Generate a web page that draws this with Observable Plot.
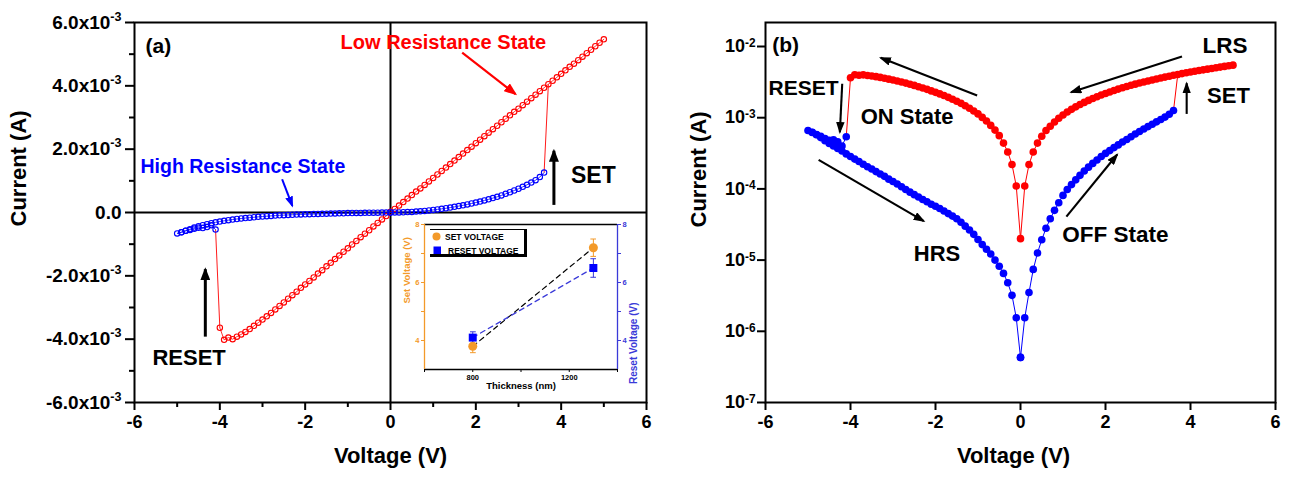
<!DOCTYPE html>
<html>
<head>
<meta charset="utf-8">
<script src="https://cdn.jsdelivr.net/npm/d3@7"></script>
<script src="https://cdn.jsdelivr.net/npm/@observablehq/plot@0.6"></script>
<style>
  html, body { margin: 0; padding: 0; background: #fff; }
  #wrap { position: relative; width: 1290px; height: 477px; overflow: hidden; background: #fff;
          font-family: "Liberation Sans", Arial, Helvetica, sans-serif; }
  .panel { position: absolute; }
  .panel svg { overflow: visible; }
  #legend { position: absolute; left: 430px; top: 229px; width: 97px; height: 28px; box-sizing: border-box;
            border-top: 1px solid #000; border-right: 3px solid #000; border-bottom: 3px solid #000;
            font-weight: bold; font-size: 8.5px; color: #000; }
  #legend .sym { position: absolute; }
  #legend .txt { position: absolute; line-height: 10px; white-space: nowrap; }
</style>
</head>
<body>
<div id="wrap"></div>
<script>
// ---------------- DATA ----------------
// HRS forward sweep (blue), 0 -> 3.6 V, current in mA
const hrsFwdV = [0.0,0.1,0.2,0.3,0.4,0.5,0.6,0.7,0.8,0.9,1.0,1.1,1.2,1.3,1.4,1.5,1.6,1.7,1.8,1.9,2.0,2.1,2.2,2.3,2.4,2.5,2.6,2.7,2.8,2.9,3.0,3.1,3.2,3.3,3.4,3.5,3.6];
const hrsFwdI_mA = [0.00043,0.00155,0.0035,0.0074,0.0126,0.0193,0.028,0.038,0.050,0.064,
  0.081,0.098,0.115,0.134,0.155,0.178,0.202,0.228,0.255,0.285,
  0.315,0.345,0.38,0.415,0.455,0.495,0.54,0.59,0.64,0.695,
  0.75,0.81,0.875,0.945,1.02,1.12,1.26];

// LRS sweep (red), 5.0 -> -4.0 V, current in mA
const lrsV = [5.0,4.9,4.8,4.7,4.6,4.5,4.4,4.3,4.2,4.1,4.0,3.9,3.8,3.7,3.6,3.5,3.4,3.3,3.2,3.1,
  3.0,2.9,2.8,2.7,2.6,2.5,2.4,2.3,2.2,2.1,2.0,1.9,1.8,1.7,1.6,1.5,1.4,1.3,1.2,1.1,
  1.0,0.9,0.8,0.7,0.6,0.5,0.4,0.3,0.2,0.1,0.0,
  -0.1,-0.2,-0.3,-0.4,-0.5,-0.6,-0.7,-0.8,-0.9,-1.0,-1.1,-1.2,-1.3,-1.4,-1.5,-1.6,-1.7,-1.8,-1.9,-2.0,
  -2.1,-2.2,-2.3,-2.4,-2.5,-2.6,-2.7,-2.8,-2.9,-3.0,-3.1,-3.2,-3.3,-3.4,-3.5,-3.6,-3.7,-3.8,-3.9,-4.0];
const lrsI_mA = [5.47,5.36,5.25,5.14,5.03,4.92,4.81,4.70,4.60,4.49,
  4.38,4.27,4.16,4.05,3.94,3.83,3.72,3.61,3.50,3.39,
  3.28,3.18,3.07,2.96,2.85,2.74,2.63,2.52,2.41,2.30,
  2.19,2.08,1.97,1.86,1.75,1.64,1.53,1.42,1.31,1.20,
  1.09,0.98,0.87,0.76,0.66,0.55,0.44,0.33,0.22,0.11,
  0.02,
  -0.11,-0.22,-0.33,-0.44,-0.56,-0.67,-0.78,-0.90,-1.01,-1.13,
  -1.24,-1.36,-1.47,-1.59,-1.70,-1.82,-1.93,-2.05,-2.16,-2.27,
  -2.38,-2.50,-2.61,-2.72,-2.84,-2.95,-3.06,-3.17,-3.28,-3.38,
  -3.48,-3.58,-3.68,-3.77,-3.85,-3.92,-4.00,-3.95,-4.02,-3.64];

// HRS after RESET (blue), -4.1 -> -5.0 V, mA
const hrsPostResetV = [-4.1,-4.2,-4.3,-4.4,-4.5,-4.6,-4.7,-4.8,-4.9,-5.0];
const hrsPostResetI_mA = [-0.54,-0.40,-0.46,-0.49,-0.48,-0.51,-0.55,-0.58,-0.62,-0.66];

// HRS return sweep (blue), -4.9 -> 0 V, mA
const hrsRevV = [-4.9,-4.8,-4.7,-4.6,-4.5,-4.4,-4.3,-4.2,-4.1,-4.0,-3.9,-3.8,-3.7,-3.6,-3.5,-3.4,-3.3,-3.2,-3.1,
  -3.0,-2.9,-2.8,-2.7,-2.6,-2.5,-2.4,-2.3,-2.2,-2.1,-2.0,-1.9,-1.8,-1.7,-1.6,-1.5,-1.4,-1.3,-1.2,-1.1,
  -1.0,-0.9,-0.8,-0.7,-0.6,-0.5,-0.4,-0.3,-0.2,-0.1,0.0];
const hrsRevI_mA = [-0.625,-0.575,-0.525,-0.475,-0.435,-0.40,-0.37,-0.34,-0.31,
  -0.285,-0.262,-0.242,-0.222,-0.205,-0.19,-0.175,-0.162,-0.15,-0.137,
  -0.127,-0.117,-0.107,-0.098,-0.090,-0.083,-0.077,-0.071,-0.066,-0.061,
  -0.057,-0.053,-0.049,-0.045,-0.0415,-0.038,-0.034,-0.030,-0.0265,-0.023,
  -0.0195,-0.0165,-0.0142,-0.0122,-0.0100,-0.0082,-0.0065,-0.0048,-0.0032,-0.00155,
  -0.00043];

// switching points (V): SET jumps 3.6 -> 3.7, RESET jumps -4.0 -> -4.1
const setSwitchV = [3.6, 3.7];
const resetSwitchV = [-4.0, -4.1];

// inset: switching voltages vs. thickness
const thicknessNm = [800, 1300];
const setVoltage = [3.8, 7.2];
const setVoltageErr = [0.22, 0.30];
const resetVoltage = [4.1, 6.5];
const resetVoltageErr = [0.20, 0.32];

// ticks
const xTicks = [-6, -4, -2, 0, 2, 4, 6];
const xMinorA = [-5, -3, -1, 1, 3, 5];
const yTicksA = [-6e-3, -4e-3, -2e-3, 0, 2e-3, 4e-3, 6e-3];
const yMinorA = [-5e-3, -3e-3, -1e-3, 1e-3, 3e-3, 5e-3];
const yTicksB = [1e-7, 1e-6, 1e-5, 1e-4, 1e-3, 1e-2];
const insetYTicks = [4, 6, 8], insetYMinor = [5, 7];
const insetXTicks = [800, 1200], insetXMinor = [600, 1000, 1400];

const axisTitles = {x: "Voltage (V)", y: "Current (A)"};
const insetTitles = {x: "Thickness (nm)", yLeft: "Set Voltage (V)", yRight: "Reset Voltage (V)"};
const legendLabels = ["SET VOLTAGE", "RESET VOLTAGE"];

// annotations (data units)
const annA = [
  {text: "(a)", V: -5.74, I: 5.26e-3},
  {text: "Low Resistance State", V: -1.17, I: 5.36e-3},
  {text: "High Resistance State", V: -5.86, I: 1.45e-3},
  {text: "SET", V: 4.23, I: 1.16e-3},
  {text: "RESET", V: -5.58, I: -4.58e-3}
];
const arrowsA = [
  {kind: "lrs", x1: 1.68, y1: 5.05e-3, x2: 2.93, y2: 3.74e-3},
  {kind: "hrs", x1: -2.54, y1: 1.05e-3, x2: -2.30, y2: 0.21e-3},
  {kind: "sw", x1: 3.83, y1: 0.24e-3, x2: 3.83, y2: 1.95e-3},
  {kind: "sw", x1: -4.34, y1: -3.92e-3, x2: -4.34, y2: -1.79e-3}
];
const annB = [
  {text: "(b)", V: -5.84, I: 1.03e-2},
  {text: "RESET", V: -5.93, I: 2.55e-3},
  {text: "ON State", V: -3.76, I: 1.02e-3},
  {text: "LRS", V: 4.28, I: 1.03e-2},
  {text: "SET", V: 4.39, I: 2.05e-3},
  {text: "OFF State", V: 0.98, I: 2.29e-5},
  {text: "HRS", V: -2.51, I: 1.23e-5}
];
const arrowsB = [
  {kind: "b", x1: -4.195, y1: 3.0e-3, x2: -4.25, y2: 6.25e-4},
  {kind: "b", x1: -1.02, y1: 2.05e-3, x2: -3.29, y2: 6.93e-3},
  {kind: "b", x1: 3.80, y1: 7.24e-3, x2: 1.19, y2: 2.28e-3},
  {kind: "b", x1: 3.91, y1: 1.13e-3, x2: 3.91, y2: 3.05e-3},
  {kind: "b", x1: 1.08, y1: 4.09e-5, x2: 2.275, y2: 3.04e-4},
  {kind: "b", x1: -4.75, y1: 2.56e-4, x2: -2.275, y2: 3.52e-5}
];

// ---------------- STYLES ----------------
const RED = "#ff0000", BLUE = "#0000ff", ORANGE = "#f39a2a", IBLUE = "#3a3ad8";
const FONT = '"Liberation Sans", Arial, Helvetica, sans-serif';
const baseStyle = {fontFamily: FONT, fontWeight: "bold", fontSize: "18px", background: "transparent", color: "#000", overflow: "visible"};
const annStyleA = {
  "(a)": {fill: "#000", size: 21},
  "Low Resistance State": {fill: RED, size: 20},
  "High Resistance State": {fill: BLUE, size: 19.5},
  "SET": {fill: "#000", size: 23},
  "RESET": {fill: "#000", size: 22}
};
const annStyleB = {
  "(b)": {fill: "#000", size: 21},
  "RESET": {fill: "#000", size: 21},
  "ON State": {fill: "#000", size: 22},
  "LRS": {fill: "#000", size: 22.5},
  "SET": {fill: "#000", size: 22},
  "OFF State": {fill: "#000", size: 22.5},
  "HRS": {fill: "#000", size: 22}
};
// arrow styles (stroke widths are unique so that heads can be attached after rendering)
const arrowKinds = {
  lrs: {stroke: RED, width: 2.2, L: 13, W: 10},
  hrs: {stroke: BLUE, width: 2.05, L: 11, W: 8},
  sw: {stroke: "#000000", width: 3, L: 13, W: 10},
  b: {stroke: "#000000", width: 2.1, L: 12, W: 8.5}
};

// ---------------- BUILD TABLES ----------------
const toRows = (Vs, Is, seg) => Vs.map((v, i) => ({V: v, I: Is[i] / 1000, seg}));
const lrs = toRows(lrsV, lrsI_mA, "lrs");
const hrsFwd = toRows(hrsFwdV, hrsFwdI_mA, "fwd");
const hrsBack = toRows([...hrsPostResetV, ...hrsRevV], [...hrsPostResetI_mA, ...hrsRevI_mA], "back");
const hrs = [...hrsFwd, ...hrsBack];
const at = (rows, v) => rows.find(d => Math.abs(d.V - v) < 1e-9);
const transitions = [
  [at(hrsFwd, setSwitchV[0]), at(lrs, setSwitchV[1])],
  [at(lrs, resetSwitchV[0]), at(hrsBack, resetSwitchV[1])]
].map(([a, b]) => ({V1: a.V, I1: a.I, V2: b.V, I2: b.I}));
const setRows = thicknessNm.map((t, i) => ({t, v: setVoltage[i], e: setVoltageErr[i]}));
const resetRows = thicknessNm.map((t, i) => ({t, v: resetVoltage[i], e: resetVoltageErr[i]}));

const fmtLin = v => Math.abs(v) < 1e-12 ? "0.0" : (v * 1e3).toFixed(1) + "x10^-3";
const fmtLog = v => "10^" + Math.round(Math.log10(v));
const fmtNum = d => String(d);

function annotationMarks(list, styles) {
  return list.map(a => Plot.text([a], {x: "V", y: "I", text: "text", textAnchor: "start", lineAnchor: "middle",
    fill: styles[a.text].fill, fontSize: styles[a.text].size, fontWeight: "bold"}));
}
function arrowMarks(list) {
  const kinds = [...new Set(list.map(d => d.kind))];
  return kinds.map(k => Plot.link(list.filter(d => d.kind === k), {
    x1: "x1", y1: "y1", x2: "x2", y2: "y2",
    stroke: arrowKinds[k].stroke, strokeWidth: arrowKinds[k].width
  }));
}
let markerId = 0;
function addArrowheads(svg) {
  const s = d3.select(svg);
  const defs = s.insert("defs", ":first-child");
  s.selectAll("g").each(function () {
    const w = parseFloat(this.getAttribute("stroke-width"));
    const c = (this.getAttribute("stroke") || "").toLowerCase();
    if (!(w > 0) || !c) return;
    const spec = Object.values(arrowKinds).find(k => Math.abs(k.width - w) < 1e-6 && k.stroke.toLowerCase() === c);
    if (!spec) return;
    const id = "ahead" + (markerId++);
    defs.append("marker").attr("id", id).attr("viewBox", "0 0 10 10")
      .attr("refX", 8.5).attr("refY", 5).attr("markerUnits", "userSpaceOnUse")
      .attr("markerWidth", spec.L).attr("markerHeight", spec.W)
      .attr("preserveAspectRatio", "none").attr("orient", "auto")
      .append("path").attr("d", "M0,0L10,5L0,10Z").attr("fill", spec.stroke).attr("stroke", "none");
    d3.select(this).selectAll("path,line").attr("marker-end", `url(#${id})`);
  });
}
function superscripts(svg, dy) {
  d3.select(svg).selectAll("text").each(function () {
    const t = this.textContent;
    if (!t.includes("^") || this.querySelector("tspan")) return;
    const [base, exp] = t.split("^");
    const s = d3.select(this);
    s.text(base);
    s.append("tspan").attr("dy", dy).attr("font-size", "0.66em").text(exp);
  });
}

const wrap = document.getElementById("wrap");
function place(node, left, top, width) {
  const d = document.createElement("div");
  d.className = "panel";
  d.style.left = left + "px"; d.style.top = top + "px"; d.style.width = width + "px";
  d.appendChild(node);
  wrap.appendChild(d);
}

// ---------------- PANEL (a) ----------------
const plotA = Plot.plot({
  width: 656, height: 477,
  marginLeft: 134, marginRight: 10, marginTop: 22, marginBottom: 75,
  style: baseStyle,
  x: {domain: [-6, 6]},
  y: {domain: [-6e-3, 6e-3]},
  marks: [
    Plot.ruleY([0], {strokeWidth: 2}),
    Plot.ruleX([0], {strokeWidth: 2}),
    Plot.line(lrs, {x: "V", y: "I", stroke: RED, strokeWidth: 0.8}),
    Plot.link(transitions, {x1: "V1", y1: "I1", x2: "V2", y2: "I2", stroke: RED, strokeWidth: 0.9}),
    Plot.dot(lrs, {x: "V", y: "I", r: 2.7, stroke: RED, strokeWidth: 1.1}),
    Plot.line(hrs, {x: "V", y: "I", z: "seg", stroke: BLUE, strokeWidth: 0.8}),
    Plot.dot(hrs, {x: "V", y: "I", r: 2.7, stroke: BLUE, strokeWidth: 1.1}),
    Plot.frame({strokeWidth: 2}),
    Plot.axisY({ticks: yTicksA, tickFormat: fmtLin, tickSize: 9, tickPadding: 4, strokeWidth: 2, fontSize: 19, label: null}),
    Plot.axisY({ticks: yMinorA, tickFormat: () => "", tickSize: 5, strokeWidth: 2, label: null}),
    Plot.axisX({ticks: xTicks, tickFormat: fmtNum, tickSize: 8, tickPadding: 5, strokeWidth: 2, fontSize: 18, label: null}),
    Plot.axisX({ticks: xMinorA, tickFormat: () => "", tickSize: 5, strokeWidth: 2, label: null}),
    Plot.text([axisTitles.y], {text: d => d, frameAnchor: "left", rotate: -90, lineAnchor: "top", dx: -124, dy: 14, fontSize: 22, fontWeight: "bold"}),
    Plot.text([axisTitles.x], {text: d => d, frameAnchor: "bottom", lineAnchor: "middle", dy: 53, fontSize: 22, fontWeight: "bold"}),
    ...annotationMarks(annA, annStyleA),
    ...arrowMarks(arrowsA)
  ]
});
superscripts(plotA, "-0.62em");
addArrowheads(plotA);
place(plotA, 0, 0, 656);

// ---------------- INSET ----------------
const inset = Plot.plot({
  width: 260, height: 185,
  marginLeft: 29, marginRight: 38, marginTop: 14, marginBottom: 26,
  style: {...baseStyle, fontSize: "7.5px"},
  x: {domain: [600, 1400]},
  y: {domain: [3, 8]},
  marks: [
    Plot.ruleY([8], {strokeWidth: 1.3}),
    Plot.ruleY([3], {strokeWidth: 1.3}),
    Plot.ruleX([600], {stroke: ORANGE, strokeWidth: 1.3}),
    Plot.ruleX([1400], {stroke: IBLUE, strokeWidth: 1.3}),
    Plot.axisY({anchor: "left", ticks: insetYTicks, tickSize: 3, tickPadding: 2, color: ORANGE, fontSize: 7.5, tickFormat: fmtNum, label: null}),
    Plot.axisY({anchor: "left", ticks: insetYMinor, tickSize: 3, tickFormat: () => "", color: ORANGE, label: null}),
    Plot.axisY({anchor: "right", ticks: insetYTicks, tickSize: 3, tickPadding: 2, color: IBLUE, fontSize: 7.5, tickFormat: fmtNum, label: null}),
    Plot.axisY({anchor: "right", ticks: insetYMinor, tickSize: 3, tickFormat: () => "", color: IBLUE, label: null}),
    Plot.axisX({ticks: insetXTicks, tickSize: 3, tickPadding: 2, fontSize: 7.5, tickFormat: fmtNum, label: null}),
    Plot.axisX({ticks: insetXMinor, tickSize: 3, tickFormat: () => "", label: null}),
    Plot.line(setRows, {x: "t", y: "v", stroke: "#000", strokeWidth: 1.2, strokeDasharray: "5,4"}),
    Plot.line(resetRows, {x: "t", y: "v", stroke: IBLUE, strokeWidth: 1.2, strokeDasharray: "5,4"}),
    Plot.link(setRows, {x1: "t", x2: "t", y1: d => d.v - d.e, y2: d => d.v + d.e, stroke: ORANGE, strokeWidth: 1, markerStart: "tick", markerEnd: "tick"}),
    Plot.link(resetRows, {x1: "t", x2: "t", y1: d => d.v - d.e, y2: d => d.v + d.e, stroke: IBLUE, strokeWidth: 1, markerStart: "tick", markerEnd: "tick"}),
    Plot.dot(setRows, {x: "t", y: "v", r: 4.5, fill: ORANGE}),
    Plot.dot(resetRows, {x: "t", y: "v", r: 4.5, symbol: "square", fill: BLUE}),
    Plot.text([insetTitles.yLeft], {text: d => d, frameAnchor: "left", rotate: -90, lineAnchor: "middle", dx: -17.3, dy: 6.5, fill: ORANGE, fontSize: 9.5, fontWeight: "bold"}),
    Plot.text([insetTitles.yRight], {text: d => d, frameAnchor: "right", rotate: -90, lineAnchor: "middle", dx: 16.3, dy: 5.5, fill: IBLUE, fontSize: 10, fontWeight: "bold"}),
    Plot.text([insetTitles.x], {text: d => d, frameAnchor: "bottom", lineAnchor: "middle", dy: 16, fontSize: 9.5, fontWeight: "bold"})
  ]
});
place(inset, 395, 210, 260);

// inset legend
const legend = document.createElement("div");
legend.id = "legend";
legend.innerHTML =
  `<svg class="sym" style="left:2px;top:2px" width="9" height="9"><circle cx="4.5" cy="4.5" r="4" fill="${ORANGE}"/></svg>` +
  `<div class="txt" style="left:15px;top:1.5px">${legendLabels[0]}</div>` +
  `<svg class="sym" style="left:2.5px;top:16px" width="9" height="9"><rect x="0.5" y="0.5" width="7.5" height="7.5" fill="${BLUE}"/></svg>` +
  `<div class="txt" style="left:18px;top:15.5px">${legendLabels[1]}</div>`;
wrap.appendChild(legend);

// ---------------- PANEL (b) ----------------
const absI = d => Math.abs(d.I);
const plotB = Plot.plot({
  width: 610, height: 477,
  marginLeft: 85, marginRight: 15, marginTop: 22, marginBottom: 75,
  style: baseStyle,
  x: {domain: [-6, 6]},
  y: {type: "log", domain: [1e-7, 0.02173]},
  marks: [
    Plot.line(lrs, {x: "V", y: absI, stroke: RED, strokeWidth: 1}),
    Plot.link(transitions, {x1: "V1", y1: d => Math.abs(d.I1), x2: "V2", y2: d => Math.abs(d.I2), stroke: RED, strokeWidth: 1}),
    Plot.dot(lrs, {x: "V", y: absI, r: 3.8, fill: RED}),
    Plot.line(hrs, {x: "V", y: absI, z: "seg", stroke: BLUE, strokeWidth: 1}),
    Plot.dot(hrs, {x: "V", y: absI, r: 3.8, fill: BLUE}),
    Plot.frame({strokeWidth: 2}),
    Plot.axisY({ticks: yTicksB, tickFormat: fmtLog, tickSize: 8, tickPadding: 2, strokeWidth: 2, fontSize: 18, label: null}),
    Plot.axisX({ticks: xTicks, tickFormat: fmtNum, tickSize: 8, tickPadding: 5, strokeWidth: 2, fontSize: 18, label: null}),
    Plot.text([axisTitles.y], {text: d => d, frameAnchor: "left", rotate: -90, lineAnchor: "top", dx: -75, dy: 15, fontSize: 22, fontWeight: "bold"}),
    Plot.text([axisTitles.x], {text: d => d, frameAnchor: "bottom", lineAnchor: "middle", dx: -7, dy: 53, fontSize: 22, fontWeight: "bold"}),
    ...annotationMarks(annB, annStyleB),
    ...arrowMarks(arrowsB)
  ]
});
superscripts(plotB, "-0.45em");
addArrowheads(plotB);
place(plotB, 680, 0, 610);
</script>
</body>
</html>
